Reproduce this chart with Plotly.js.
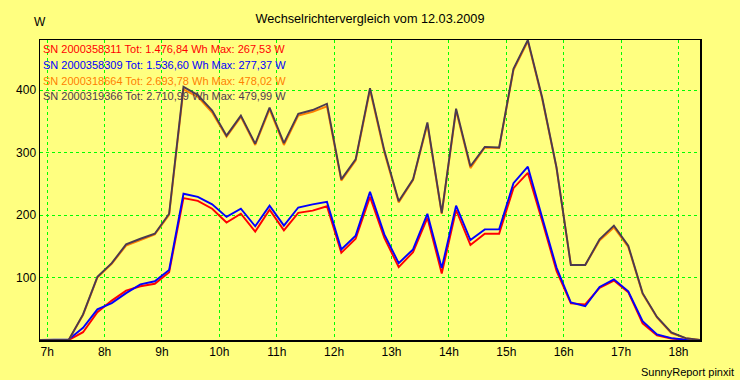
<!DOCTYPE html>
<html>
<head>
<meta charset="utf-8">
<script src="https://cdn.plot.ly/plotly-3.0.1.min.js"></script>
<style>html,body{margin:0;padding:0;background:#FFFF80;}#chart{width:740px;height:380px;}</style>
</head>
<body>
<div id="chart"></div>
<script>
// Time stamps (15-minute intervals, 12.03.2009)
const times = ["06:52:30","07:07:30","07:22:30","07:37:30","07:52:30","08:07:30","08:22:30","08:37:30","08:52:30","09:07:30",
  "09:22:30","09:37:30","09:52:30","10:07:30","10:22:30","10:37:30","10:52:30","11:07:30","11:22:30","11:37:30",
  "11:52:30","12:07:30","12:22:30","12:37:30","12:52:30","13:07:30","13:22:30","13:37:30","13:52:30","14:07:30",
  "14:22:30","14:37:30","14:52:30","15:07:30","15:22:30","15:37:30","15:52:30","16:07:30","16:22:30","16:37:30",
  "16:52:30","17:07:30","17:22:30","17:37:30","17:52:30","18:07:30","18:22:30"];

// Power values in W
const sn2000358311 = [0,0,0,12.5,44.5,63,79,86,90,108.5,
  227,222.5,210,188,202,173.5,208.5,175.5,203.5,207,
  214,139.5,162,229,163.5,116.5,140.5,195.5,106.5,208,
  152,170,170,243,267.53,190.5,110.5,58.5,57,83.5,
  95,76.5,26.5,7.5,2.5,0,0];
const sn2000358309 = [0,0,1,19.5,49,59,75,89,94,112,
  234,229,217,197,210,182,215,183,212,217,
  221,145,167,237,169,123,145,202,115,215,
  160,177,177,251,277.37,196,116,60,54,85,
  97,78,30,9,3,0.5,0];
const sn2000318664 = [0,0,0,40,100,122,151,160,169,200,
  401,389,364,325,357,312,369,312,359,365,
  374,255,287,400,300,220,256,345,202,367,
  275,308,307,432,478.02,386,275,120,120,159,
  180,149,74,36,11,3,0];
const sn2000319366 = [0,0,0,41,101,123,153,162,170,202,
  405,392,367,327,359,314,372,315,362,368,
  378,257,289,403,303,222,257,348,203,370,
  278,309,308,434,479.99,388,276,120,120,161,
  183,151,75,37,12,3,0];

const serials = ["2000358311","2000358309","2000318664","2000319366"];
const totals  = ["1.476,84","1.536,60","2.693,78","2.710,99"];
const maxima  = ["267,53","277,37","478,02","479,99"];
const colors  = ["#FF0000","#0000FF","#FF8000","#4B3A4F"];
const seriesValues = [sn2000358311, sn2000358309, sn2000318664, sn2000319366];

const hourTicks = ["07:00","08:00","09:00","10:00","11:00","12:00","13:00","14:00","15:00","16:00","17:00","18:00"];
const hourLabels = ["7h","8h","9h","10h","11h","12h","13h","14h","15h","16h","17h","18h"];
const yTicks = [100,200,300,400];

const day = "2009-03-12 ";
const x = times.map(t => day + t);

const traces = seriesValues.map((vals, i) => ({
  type: "scatter", mode: "lines", x: x, y: vals,
  line: {color: colors[i], width: 1.9, shape: "linear"},
  name: "SN " + serials[i], hoverinfo: "skip", showlegend: false
}));

const font = "Liberation Sans, Arial, sans-serif";
const legendY = [0.970, 0.918, 0.865, 0.813];
const annotations = serials.map((s, i) => ({
  xref: "paper", yref: "paper", x: 0, y: legendY[i], xanchor: "left", yanchor: "middle",
  xshift: 1, showarrow: false,
  text: "SN " + s + " Tot: " + totals[i] + " Wh Max: " + maxima[i] + " W",
  font: {family: font, size: 11, color: colors[i]}
}));
annotations.push({xref: "paper", yref: "paper", x: 0, y: 1.06, xanchor: "center", yanchor: "middle",
  showarrow: false, text: "W", font: {family: font, size: 12, color: "#000"}});
annotations.push({xref: "paper", yref: "paper", x: 1.0545, y: -0.106, xanchor: "right", yanchor: "middle",
  showarrow: false, text: "SunnyReport pinxit", font: {family: font, size: 11, color: "#000"}});

const layout = {
  width: 740, height: 380,
  paper_bgcolor: "#FFFF80", plot_bgcolor: "#FFFF80",
  margin: {l: 40, r: 40, t: 40, b: 40},
  title: {text: "Wechselrichtervergleich vom 12.03.2009", x: 0.5, xanchor: "center",
          y: 0.95, yanchor: "middle", yref: "container",
          font: {family: font, size: 12.7, color: "#000"}},
  xaxis: {
    type: "date", range: [day + times[0], day + times[times.length - 1]],
    tickvals: hourTicks.map(h => day + h), ticktext: hourLabels,
    showgrid: true, gridcolor: "#00FF00", gridwidth: 1, griddash: "3px,3px",
    showline: true, linecolor: "#000", linewidth: 1.5, mirror: true,
    ticks: "", zeroline: false, fixedrange: true,
    tickfont: {family: font, size: 12, color: "#000"}
  },
  yaxis: {
    range: [0, 480], tickvals: yTicks, ticktext: yTicks.map(String),
    showgrid: true, gridcolor: "#00FF00", gridwidth: 1, griddash: "3px,3px",
    showline: true, linecolor: "#000", linewidth: 1.5, mirror: true,
    ticks: "", zeroline: false, fixedrange: true,
    tickfont: {family: font, size: 12, color: "#000"}
  },
  annotations: annotations,
  hovermode: false, showlegend: false
};

Plotly.newPlot("chart", traces, layout, {displayModeBar: false, staticPlot: true});
</script>
</body>
</html>
